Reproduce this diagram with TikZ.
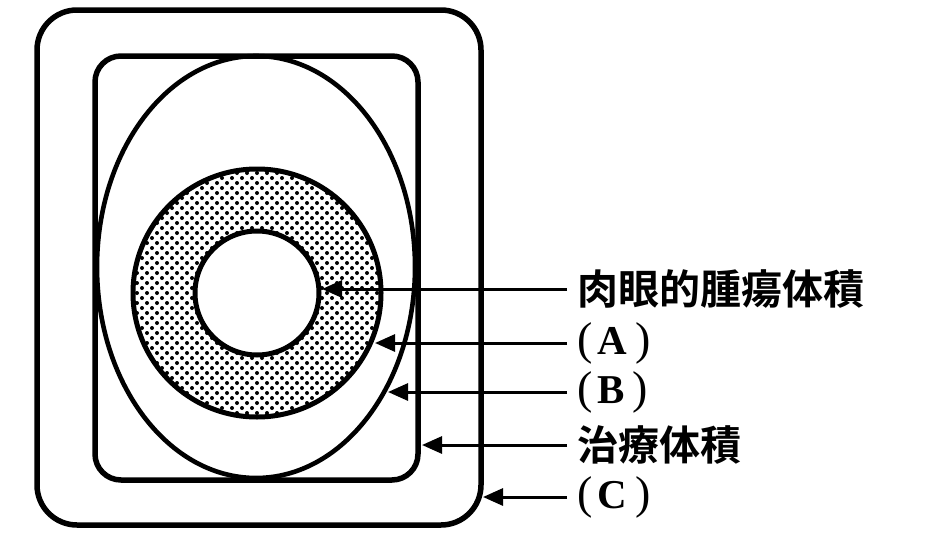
\documentclass[tikz,border=0pt]{standalone}
\usepackage{fontspec}
\setmainfont{Liberation Serif}
\newfontfamily\cjk{Noto Sans CJK JP Bold}
\usetikzlibrary{arrows.meta}

\newcommand{\paren}[1]{{\fontsize{46}{48}\selectfont#1}}

\begin{document}
\begin{tikzpicture}[x=1pt,y=-1pt]
			\tikzset{outline/.style={line width=5.5pt}}
			\tikzset{pointer/.style={line width=3pt,-{Triangle[length=20pt,width=17pt]}}}
			\tikzset{legend/.style={anchor=west,inner xsep=10pt,inner ysep=0pt}}
			\tikzset{kanji/.style={legend,font=\cjk\fontsize{41}{44}\selectfont}}
			\tikzset{letter/.style={legend,font=\fontsize{41}{44}\selectfont}}
			\useasboundingbox (0,0) rectangle (929,554);
			% volumes, from outside in
			\draw[outline,rounded corners=40pt] (37,10) rectangle (481,525);
			\draw[outline,rounded corners=26pt] (95,56) rectangle (418,480);
			\draw[outline,line width=4.6pt] (256,267) ellipse [x radius=159,y radius=211];
			\begin{scope}
				\clip (257,293) circle (124);
				\foreach \row in {0,...,50}
					\foreach \col in {0,...,26}
						\fill ({132+10*\col+5*mod(\row,2)},{168+5*\row}) circle (2);
			\end{scope}
			\fill[white] (257,293) circle (62);
			\draw[outline,line width=5pt] (257,293) circle (124);
			\draw[outline,line width=5pt] (257,293) circle (62);
			% arrow tips
			\coordinate (gtvtip) at (322,289);
			\coordinate (atip) at (375,343);
			\coordinate (btip) at (388,392);
			\coordinate (tvtip) at (422,445);
			\coordinate (ctip) at (483,497);
			% labels
			\node[kanji] (gtvlabel) at (567,289) {肉眼的腫瘍体積};
			\node[letter] (alabel) at (567,343) {\paren{(}\hspace{5pt}\textbf{A}\hspace{8pt}\paren{)}};
			\node[letter] (blabel) at (567,392) {\paren{(}\hspace{5pt}\textbf{B}\hspace{8pt}\paren{)}};
			\node[kanji] (tvlabel) at (567,445) {治療体積};
			\node[letter] (clabel) at (567,497) {\paren{(}\hspace{5pt}\textbf{C}\hspace{8pt}\paren{)}};
			\draw[pointer] (gtvlabel.west) -- (gtvtip);
			\draw[pointer] (alabel.west) -- (atip);
			\draw[pointer] (blabel.west) -- (btip);
			\draw[pointer] (tvlabel.west) -- (tvtip);
			\draw[pointer] (clabel.west) -- (ctip);
		\end{tikzpicture}
\end{document}
